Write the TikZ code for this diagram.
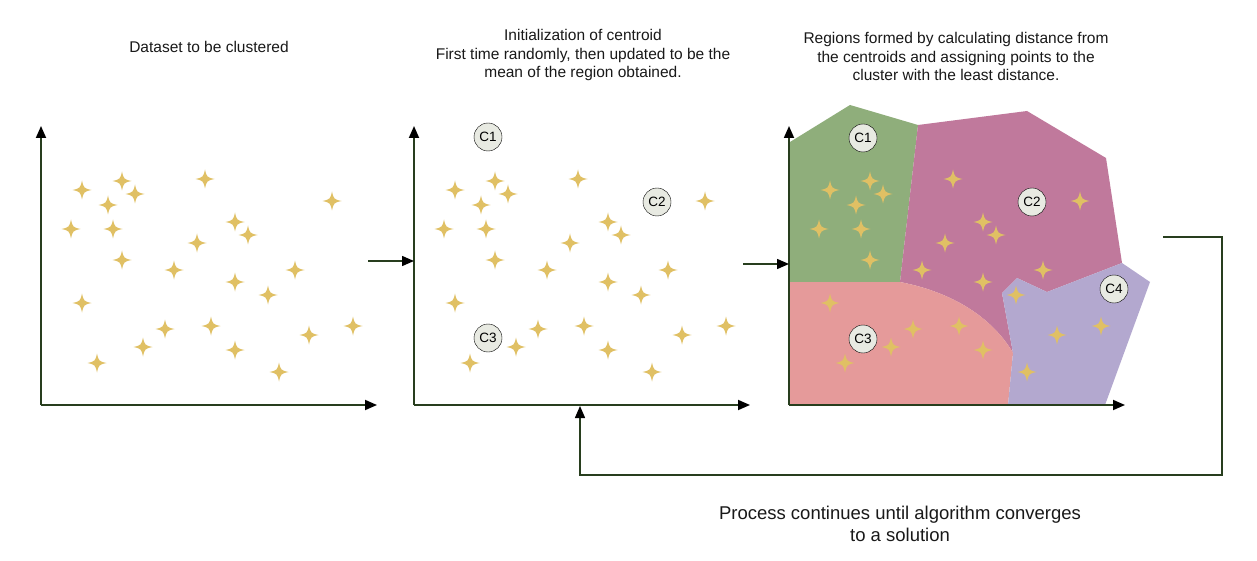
\documentclass[tikz,border=0pt]{standalone}
\usepackage{fontspec}
\setmainfont{Liberation Sans}
\usepackage{tikz}
\usetikzlibrary{arrows.meta}

\definecolor{axisgreen}{RGB}{40,62,30}
\definecolor{sparkgold}{RGB}{224,192,100}
\definecolor{regone}{RGB}{143,174,123}
\definecolor{regtwo}{RGB}{192,121,156}
\definecolor{regthree}{RGB}{229,154,154}
\definecolor{regfour}{RGB}{179,168,207}
\definecolor{cgrey}{RGB}{232,234,226}

\begin{document}
\begin{tikzpicture}[x=1pt,y=-1pt]
  \tikzset{centroid/.style = {shape=circle,draw,fill=cgrey,minimum size=28pt,inner sep=0pt,font=\fontsize{13.5}{13.5}\selectfont}}
  \tikzset{axis/.style = {draw=axisgreen,line width=1.8pt,-{Triangle[length=12pt,width=10pt,color=black]}}}
  \tikzset{flow/.style = {draw=axisgreen,line width=1.5pt,-{Triangle[length=12pt,width=10pt,color=black]}}}
  \tikzset{title/.style = {align=center,inner sep=0pt,text=black!90,font=\fontsize{15.5}{18.5}\selectfont}}
  \tikzset{spark/.pic = {\fill[sparkgold] (0,-9.5) .. controls (1.8,-1.8) .. (9.5,0) .. controls (1.8,1.8) .. (0,9.5) .. controls (-1.8,1.8) .. (-9.5,0) .. controls (-1.8,-1.8) .. (0,-9.5) -- cycle;}}

  \fill[white] (0,0) rectangle (1257,561);
  \useasboundingbox (0,0) rectangle (1257,561);

  % regions of the third panel
  \fill[regone] (790,142) -- (850,105) -- (918,125) -- (900,282) -- (790,282) -- cycle;
  \fill[regtwo] (918,125) -- (1027,111) -- (1106,158) -- (1122,263) -- (1047,292) -- (1017,278) -- (1002,293) -- (1013,353) .. controls (997,325) and (962,294) .. (900,282) -- cycle;
  \fill[regthree] (790,282) -- (900,282) .. controls (962,294) and (997,325) .. (1013,353) -- (1008,405) -- (790,405) -- cycle;
  \fill[regfour] (1002,293) -- (1017,278) -- (1047,292) -- (1122,263) -- (1150,282) -- (1105,405) -- (1008,405) -- (1013,353) -- cycle;

  % axes and data points
  \foreach \p/\ox in {1/41,2/414,3/789} {
    \coordinate (O\p) at (\ox,405);
    \coordinate (Y\p) at (\ox,126);
    \coordinate (X\p) at (\ox+336,405);
    \draw[axis] (O\p) -- (Y\p);
    \draw[axis] (O\p) -- (X\p);
    \foreach \dx/\dy in {41/-215,81/-224,94/-211,164/-226,67/-200,30/-176,72/-176,291/-204,
                         194/-183,207/-170,156/-162,81/-145,133/-135,254/-135,194/-123,227/-110,
                         41/-102,124/-76,170/-79,312/-79,268/-70,102/-58,194/-55,56/-42,238/-33}
      \pic at (\ox+\dx,405+\dy) {spark};
  }

  \node[centroid] (A1) at (488,137) {C1};
  \node[centroid] (A2) at (657,202) {C2};
  \node[centroid] (A3) at (488,338) {C3};
  \node[centroid] (B1) at (863,138) {C1};
  \node[centroid] (B2) at (1032,202) {C2};
  \node[centroid] (B3) at (863,339) {C3};
  \node[centroid] (B4) at (1114,289) {C4};

  \node[title] (T1) at (209,47) {Dataset to be clustered};
  \node[title] (T2) at (583,55) {Initialization of centroid\\First time randomly, then updated to be the\\mean of the region obtained.};
  \node[title] (T3) at (956,56.5) {Regions formed by calculating distance from\\the centroids and assigning points to the\\cluster with the least distance.};
  \node[title,font=\fontsize{18.5}{22}\selectfont] (N) at (900,524) {Process continues until algorithm converges\\to a solution};

  % steps between panels
  \coordinate (E1) at (368,261);
  \coordinate (I2) at (414,261);
  \coordinate (E2) at (743,264);
  \coordinate (I3) at (789,264);
  \coordinate (F1) at (1163,237);
  \coordinate (F2) at (580,406);
  \draw[flow] (E1) -- (I2);
  \draw[flow] (E2) -- (I3);
  \draw[flow] (F1) -| (1222,475) -| (F2);
\end{tikzpicture}
\end{document}
